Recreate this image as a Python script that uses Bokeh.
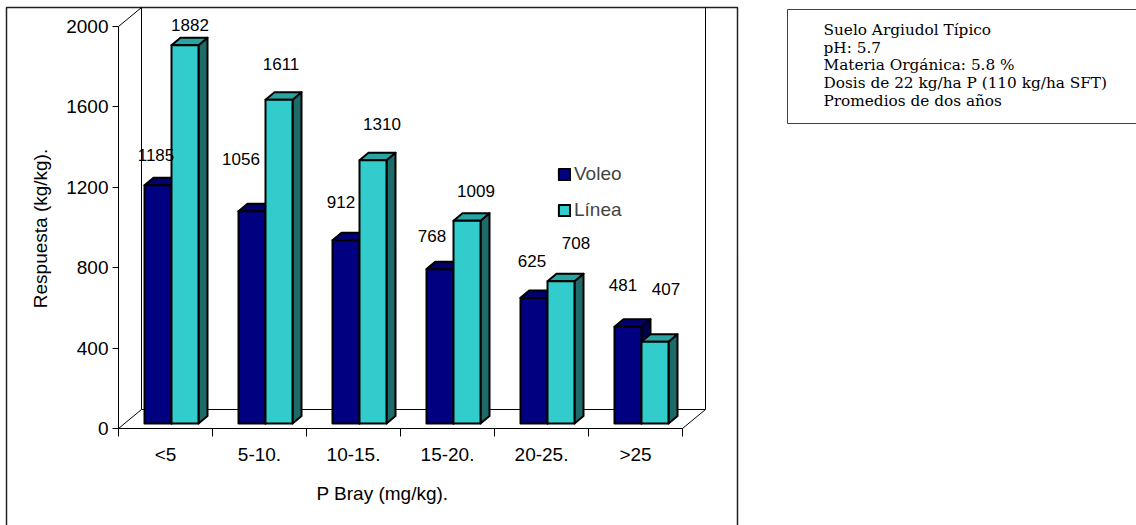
import numpy as np
from bokeh.plotting import figure
from bokeh.models import (Range1d, LinearAxis, FixedTicker, Legend, LegendItem,
                          Label)
from bokeh.embed import file_html
from bokeh.resources import INLINE
from bokeh.core.properties import value

# ---- data -------------------------------------------------------------
categories = ["<5", "5-10.", "10-15.", "15-20.", "20-25.", ">25"]
voleo = [1185, 1056, 912, 768, 625, 481]
linea = [1882, 1611, 1310, 1009, 708, 407]
y_ticks = [0, 400, 800, 1200, 1600, 2000]
info_lines = [
    "Suelo Argiudol Típico",
    "pH: 5.7",
    "Materia Orgánica: 5.8 %",
    "Dosis de 22 kg/ha P (110 kg/ha SFT)",
    "Promedios de dos años",
]

# ---- layout / style ---------------------------------------------------
# label nudges in pixels (right, up) from the top centre of each bar's front face
voleo_label_nudge = [(-2, 30), (-11, 52), (-5, 38), (-8, 33), (-2, 37), (-5, 42)]
linea_label_nudge = [(5, 20), (2, 36), (9, 36), (9, 30), (15, 38), (11, 53)]

W, H = 1136, 525
X0_PX = 118            # left end of the category axis
Y0_PX = 428            # value 0 on the front plane (from top)
CAT_PX = 94            # pixels per category
VAL_PX = 402 / 2000    # pixels per value unit

SANS = "Liberation Sans"
SERIF = "DejaVu Serif"

VOLEO_FRONT, VOLEO_TOP, VOLEO_SIDE = "#000080", "#000070", "#00004f"
LINEA_FRONT, LINEA_TOP, LINEA_SIDE = "#33cccc", "#2aa3a3", "#1d6b68"


def dx(px):
    return px / CAT_PX


def dy(px):
    return px / VAL_PX


def at_x(px):
    return (px - X0_PX) / CAT_PX


def at_y(py):
    return (Y0_PX - py) / VAL_PX


x_start, x_end = at_x(0), at_x(W)
y_start, y_end = at_y(H), at_y(0)

n = len(categories)
DEPTH_X, DEPTH_Y = dx(23), dy(19)      # floor / wall depth
PLANE_X, PLANE_Y = dx(6), dy(5)        # bars stand a little behind the front edge
BAR_DX, BAR_DY = dx(9), dy(7.5)        # depth of each bar
BAR_W = dx(27)

p = figure(width=W, height=H, output_backend="svg", toolbar_location=None,
           x_range=Range1d(x_start, x_end), y_range=Range1d(y_start, y_end),
           x_axis_type=None, y_axis_type=None, min_border=0)
p.min_border_left = p.min_border_right = p.min_border_top = p.min_border_bottom = 0
p.outline_line_color = None
p.background_fill_color = "white"
p.border_fill_color = "white"

# ---- chart border ------------------------------------------------------
p.line(x=[at_x(6), at_x(6), at_x(737), at_x(737)],
       y=[y_start - 50, at_y(7), at_y(7), y_start - 50],
       line_color="#202020", line_width=1.5)

# ---- floor and walls ---------------------------------------------------
top_val = y_ticks[-1]
p.multi_line(
    xs=[[0, DEPTH_X], [n, n + DEPTH_X], [DEPTH_X, n + DEPTH_X],
        [DEPTH_X, DEPTH_X], [0, DEPTH_X], [n + DEPTH_X, n + DEPTH_X]],
    ys=[[0, DEPTH_Y], [0, DEPTH_Y], [DEPTH_Y, DEPTH_Y],
        [DEPTH_Y, top_val + DEPTH_Y], [top_val, top_val + DEPTH_Y],
        [DEPTH_Y, top_val + DEPTH_Y]],
    line_color="black", line_width=1)

# ---- 3D bars -----------------------------------------------------------
base = PLANE_Y
group_left = np.arange(n) + 0.5 + PLANE_X - BAR_W


def draw_bars(lefts, vals, front_c, top_c, side_c):
    vals = np.asarray(vals, dtype=float)
    rights = lefts + BAR_W
    tops = base + vals
    side_xs = [[r, r + BAR_DX, r + BAR_DX, r] for r in rights]
    side_ys = [[base, base + BAR_DY, t + BAR_DY, t] for t in tops]
    top_xs = [[l, r, r + BAR_DX, l + BAR_DX] for l, r in zip(lefts, rights)]
    top_ys = [[t, t, t + BAR_DY, t + BAR_DY] for t in tops]
    p.patches(xs=side_xs, ys=side_ys, fill_color=side_c, line_color="black",
              line_width=2, line_join="round")
    p.patches(xs=top_xs, ys=top_ys, fill_color=top_c, line_color="black",
              line_width=2, line_join="round")
    return p.quad(left=lefts, right=rights, bottom=[base] * n, top=tops,
                  fill_color=front_c, line_color="black", line_width=2,
                  line_join="round")


voleo_front = draw_bars(group_left, voleo, VOLEO_FRONT, VOLEO_TOP, VOLEO_SIDE)
linea_front = draw_bars(group_left + BAR_W, linea, LINEA_FRONT, LINEA_TOP, LINEA_SIDE)


def value_labels(lefts, vals, nudges):
    xs = [l + BAR_W / 2 + dx(nx) for l, (nx, _) in zip(lefts, nudges)]
    ys = [base + v + dy(ny) for v, (_, ny) in zip(vals, nudges)]
    p.text(x=xs, y=ys, text=[str(v) for v in vals], text_align="center",
           text_baseline="middle", text_font=value(SANS), text_font_size="17px",
           text_color="black")


value_labels(group_left, voleo, voleo_label_nudge)
value_labels(group_left + BAR_W, linea, linea_label_nudge)

# ---- axes ----------------------------------------------------------------
yax = LinearAxis(fixed_location=0, bounds=(0, top_val),
                 ticker=FixedTicker(ticks=y_ticks, minor_ticks=[]))
yax.major_tick_out = 6
yax.major_tick_in = 0
yax.minor_tick_out = 0
yax.minor_tick_in = 0
yax.major_label_standoff = 4
yax.major_label_text_font = SANS
yax.major_label_text_font_size = "19px"
yax.major_label_text_color = "black"
yax.axis_line_color = "black"
yax.major_tick_line_color = "black"
p.add_layout(yax, "left")

xax = LinearAxis(fixed_location=0, bounds=(0, n),
                 ticker=FixedTicker(ticks=[i + 0.5 for i in range(n)],
                                    minor_ticks=list(range(n + 1))))
xax.major_label_overrides = {i + 0.5: c for i, c in enumerate(categories)}
xax.major_tick_out = 0
xax.major_tick_in = 0
xax.minor_tick_out = 8
xax.minor_tick_in = 0
xax.major_label_standoff = 7
xax.major_label_text_font = SANS
xax.major_label_text_font_size = "19px"
xax.major_label_text_color = "black"
xax.axis_line_color = "black"
xax.minor_tick_line_color = "black"
p.add_layout(xax, "below")

p.add_layout(Label(x=at_x(382), y=at_y(493), text="P Bray (mg/kg).",
                   text_align="center", text_baseline="middle",
                   text_font=SANS, text_font_size="19px", text_color="black"))
p.add_layout(Label(x=at_x(40), y=at_y(228), text="Respuesta (kg/kg).",
                   angle=np.pi / 2, text_align="center", text_baseline="middle",
                   text_font=SANS, text_font_size="19px", text_color="black"))

# ---- legend --------------------------------------------------------------
legend = Legend(items=[LegendItem(label="Voleo", renderers=[voleo_front]),
                       LegendItem(label="Línea", renderers=[linea_front])],
                location=(557, 304), orientation="vertical",
                glyph_width=14, glyph_height=14, label_height=14,
                label_standoff=3, spacing=14, padding=0, margin=0,
                label_text_font=SANS, label_text_font_size="19px",
                border_line_color=None, background_fill_alpha=0)
p.add_layout(legend)

# ---- site description box ------------------------------------------------
p.quad(left=[at_x(787)], right=[at_x(W + 20)], top=[at_y(9)], bottom=[at_y(123)],
       fill_color="white", line_color="#404040", line_width=1)
baselines = [29.5, 47.2, 64.9, 82.6, 100.3]
p.text(x=[at_x(823)] * len(info_lines), y=[at_y(b) for b in baselines],
       text=info_lines, text_align="left", text_baseline="alphabetic",
       text_font=value(SERIF), text_font_size="15.3px", text_color="black")

open("out.html", "w").write(file_html(p, INLINE))
